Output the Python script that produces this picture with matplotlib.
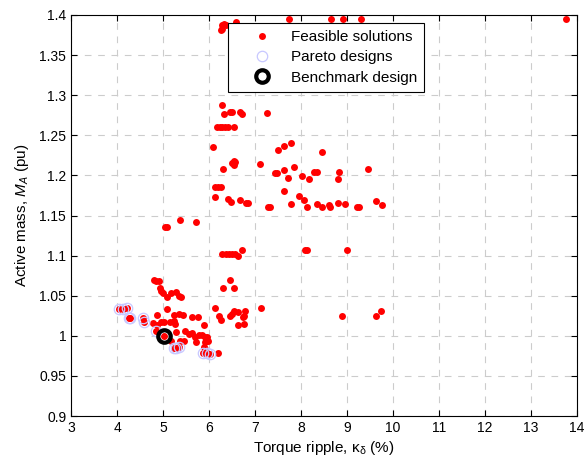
import numpy as np
import matplotlib
matplotlib.use("Agg")
import matplotlib.pyplot as plt
from matplotlib.ticker import FixedLocator, FixedFormatter

plt.rcParams['font.family'] = ['Liberation Sans', 'DejaVu Sans']
plt.rcParams['mathtext.fontset'] = 'custom'
plt.rcParams['mathtext.rm'] = 'Liberation Sans'
plt.rcParams['mathtext.it'] = 'Liberation Sans:italic'

# Feasible designs (torque ripple %, active mass pu)
feasible_x = [
    6.26, 6.28, 6.28, 6.32, 6.38, 6.59, 7.73, 8.65, 8.91, 9.30, 13.77,
    6.28, 6.33, 6.46, 6.51, 6.67, 6.72, 7.26,
    6.17, 6.23, 6.28, 6.34, 6.41, 6.55,
    6.08, 7.51, 7.62, 7.79, 8.45,
    6.30, 6.50, 6.54, 6.56, 6.54, 7.10, 7.47, 7.44, 7.64, 7.84, 7.71, 8.02, 8.18,
    8.29, 8.34, 8.83, 8.81, 9.46,
    6.14, 6.20, 6.27, 7.64, 7.95, 8.07,
    6.14, 6.41, 6.47, 6.68, 6.80, 6.84, 7.28, 7.32, 7.79, 8.13, 8.34, 8.45, 8.61,
    8.63, 8.81, 8.96, 9.21, 9.25, 9.62, 9.77,
    5.05, 5.09, 5.38, 5.71,
    6.28, 6.36, 6.43, 6.50, 6.57, 6.64, 6.72, 8.09, 8.13, 9.01,
    6.46, 6.30, 6.55, 4.80, 4.85, 4.91,
    4.93, 4.95, 5.00, 5.09, 5.18, 5.29, 5.34, 5.40,
    4.04, 4.13, 4.22, 5.09, 6.14, 6.54, 6.63, 6.79, 7.12, 8.89, 9.62, 9.73,
    4.26, 4.29, 4.56, 4.58, 4.86, 4.79, 4.86, 4.95, 5.02, 5.16, 5.23, 5.27, 5.23,
    5.34, 5.43, 5.63, 5.76, 5.89, 6.21, 6.27, 6.46, 6.49, 6.73, 6.75, 6.64, 6.77,
    4.84, 5.03, 5.29, 5.47, 5.57, 5.62, 5.69, 5.72, 5.78, 5.84, 5.91, 5.96, 5.92, 5.97,
    5.18, 5.38, 5.45, 5.23, 5.28, 5.34, 5.89, 5.92,
    5.86, 5.96, 6.03, 6.19,
]
feasible_y = [
    1.381, 1.383, 1.388, 1.389, 1.388, 1.391, 1.395, 1.395, 1.395, 1.395, 1.395,
    1.288, 1.277, 1.279, 1.279, 1.279, 1.277, 1.278,
    1.260, 1.260, 1.260, 1.260, 1.260, 1.260,
    1.235, 1.232, 1.237, 1.240, 1.229,
    1.208, 1.216, 1.218, 1.217, 1.213, 1.214, 1.203, 1.203, 1.207, 1.210, 1.197, 1.199, 1.196,
    1.204, 1.204, 1.204, 1.196, 1.208,
    1.186, 1.186, 1.186, 1.180, 1.174, 1.169,
    1.173, 1.171, 1.167, 1.169, 1.165, 1.165, 1.160, 1.160, 1.164, 1.161, 1.164, 1.161, 1.163,
    1.161, 1.165, 1.164, 1.160, 1.160, 1.168, 1.163,
    1.136, 1.136, 1.145, 1.142,
    1.102, 1.102, 1.102, 1.102, 1.102, 1.100, 1.107, 1.107, 1.107, 1.107,
    1.070, 1.059, 1.060, 1.069, 1.068, 1.068,
    1.060, 1.056, 1.053, 1.048, 1.053, 1.054, 1.050, 1.048,
    1.034, 1.034, 1.035, 1.034, 1.035, 1.031, 1.030, 1.031, 1.035, 1.025, 1.025, 1.031,
    1.022, 1.022, 1.022, 1.017, 1.026, 1.016, 1.014, 1.017, 1.017, 1.017, 1.019, 1.015, 1.026,
    1.027, 1.026, 1.023, 1.024, 1.014, 1.025, 1.020, 1.025, 1.027, 1.023, 1.025, 1.014, 1.015,
    1.006, 1.000, 1.005, 1.006, 1.002, 1.004, 0.998, 0.992, 1.001, 1.001, 0.998, 0.998, 0.992, 0.994,
    0.994, 0.994, 0.993, 0.985, 0.985, 0.986, 0.986, 0.983,
    0.978, 0.978, 0.977, 0.978,
]

# Pareto front designs
pareto_x = [4.04, 4.13, 4.22, 4.26, 4.29, 4.56, 4.58, 4.84, 5.23, 5.28, 5.34, 5.86, 5.96, 6.03]
pareto_y = [1.034, 1.034, 1.035, 1.022, 1.022, 1.022, 1.017, 1.006, 0.985, 0.985, 0.986, 0.978, 0.978, 0.977]

# Benchmark design
bench_x = [5.03]
bench_y = [1.0]

x_ticks = [3, 4, 5, 6, 7, 8, 9, 10, 11, 12, 13, 14]
y_ticks = [0.9, 0.95, 1.0, 1.05, 1.1, 1.15, 1.2, 1.25, 1.3, 1.35, 1.4]
y_tick_labels = ['0.9', '0.95', '1', '1.05', '1.1', '1.15', '1.2', '1.25', '1.3', '1.35', '1.4']

fig = plt.figure(figsize=(5.88, 4.62), dpi=100)
ax = fig.add_axes([71/588, 46/462, 506/588, 401/462])

ax.plot(feasible_x, feasible_y, 'o', color='#ff0000', markersize=5,
        markeredgewidth=0, label='Feasible solutions')
ax.plot(pareto_x, pareto_y, 'o', markerfacecolor='none', markeredgecolor='#c8c8ff',
        markersize=7.5, markeredgewidth=0.9, label='Pareto designs')
ax.plot(bench_x, bench_y, 'o', markerfacecolor='none', markeredgecolor='black',
        markersize=9, markeredgewidth=3, label='Benchmark design')

ax.set_xlim(3, 14)
ax.set_ylim(0.9, 1.4)
ax.xaxis.set_major_locator(FixedLocator(x_ticks))
ax.yaxis.set_major_locator(FixedLocator(y_ticks))
ax.yaxis.set_major_formatter(FixedFormatter(y_tick_labels))
ax.tick_params(direction='in', top=True, right=True, length=4, labelsize=10, width=0.8)
for s in ax.spines.values():
    s.set_linewidth(0.8)

# matlab style dashed grid
ax.grid(True, color='#cccccc', linewidth=0.8, linestyle=(0, (6, 6)))
ax.set_axisbelow(True)

ax.set_xlabel(r'Torque ripple, $\mathregular{\kappa_\delta}$ (%)', fontsize=11, labelpad=3)
ax.set_ylabel(r'Active mass, $M_A$ (pu)', fontsize=11, labelpad=6)

leg = ax.legend(loc='upper left', bbox_to_anchor=(228/588, 1 - 23/462),
                bbox_transform=fig.transFigure, borderaxespad=0, fontsize=11,
                fancybox=False, framealpha=1, edgecolor='black', numpoints=1,
                handlelength=3.6, handletextpad=0.05, labelspacing=0.42,
                borderpad=0.45)
leg.get_frame().set_linewidth(0.8)

fig.savefig('out.png', dpi=100)
